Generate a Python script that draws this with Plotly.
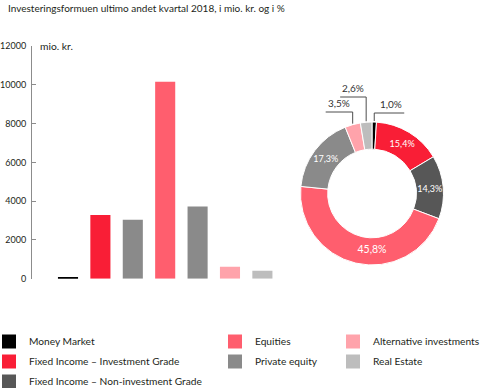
import math
import plotly.graph_objects as go

# ---------------- data ----------------
categories = ["Money Market", "Fixed Income – Investment Grade",
              "Fixed Income – Non-investment Grade", "Equities",
              "Private equity", "Alternative investments", "Real Estate"]
bar_values = [60, 3290, 3040, 10160, 3720, 615, 415]          # mio. kr.
share_pct = [1.0, 15.4, 14.3, 45.8, 17.3, 3.5, 2.6]            # %
y_ticks = [0, 2000, 4000, 6000, 8000, 10000, 12000]
legend_colors = ["#000000", "#F91E36", "#575757", "#FF5E6E", "#8A8A8A", "#FFA3AB", "#BDBDBD"]
bar_colors = ["#000000", "#F91E36", "#8A8A8A", "#FF5E6E", "#8A8A8A", "#FFA3AB", "#BDBDBD"]
legend_columns = [0, 0, 0, 1, 1, 2, 2]

# ---------------- layout helpers ----------------
W, H = 480, 388
FONT = "Lato"
TXT = "#231F20"

def px(x):
    return x / W

def py(y):
    return 1 - y / H

def fmt(v):
    return f"{v:.1f}".replace(".", ",") + "%"

fig = go.Figure()

# bars
fig.add_trace(go.Bar(
    x=categories, y=bar_values, marker=dict(color=bar_colors, line=dict(width=0)),
    showlegend=False, hoverinfo="x+y", xaxis="x", yaxis="y"))

# donut
cx, cy, R = 372, 193.5, 71.5
inside_text = [fmt(v) if v >= 10 else "" for v in share_pct]
fig.add_trace(go.Pie(
    labels=categories, values=share_pct, marker=dict(colors=legend_colors, line=dict(color="white", width=1)),
    sort=False, direction="clockwise", rotation=0, hole=0.62,
    text=inside_text, textinfo="text", textposition="inside",
    insidetextorientation="horizontal",
    textfont=dict(family=FONT, size=10.5, color="white"),
    domain=dict(x=[px(cx - R), px(cx + R)], y=[py(cy + R), py(cy - R)]),
    showlegend=False, hoverinfo="label+percent"))

# legend entries (dummy traces)
legend_names = ["legend", "legend2", "legend3"]
for name, col, lc in zip(categories, legend_colors, legend_columns):
    fig.add_trace(go.Scatter(
        x=[None], y=[None], mode="markers", name=name,
        marker=dict(symbol="square", size=14, color=col),
        legend=legend_names[lc], legendgroup=name, hoverinfo="skip"))

# outer labels with leader lines for small slices
cum = [0]
for v in share_pct:
    cum.append(cum[-1] + v)
total = cum[-1]
shapes, annotations = [], []
# (slice index, y of horizontal line, side, line length)
outer = [(0, 113, "right", 30), (6, 97, "left", 26), (5, 112, "left", 27)]
for idx, ly, side, length in outer:
    mid = (cum[idx] + cum[idx + 1]) / 2 / total * 2 * math.pi
    ex = cx + R * math.sin(mid)
    ey = cy - R * math.cos(mid) - 1
    hx = ex + length if side == "right" else ex - length
    shapes.append(dict(type="path", xref="paper", yref="paper",
                       path=f"M {px(ex)} {py(ey)} L {px(ex)} {py(ly)} L {px(hx)} {py(ly)}",
                       line=dict(color="#4d4d4d", width=1)))
    annotations.append(dict(x=px(hx), y=py(ly - 1), xref="paper", yref="paper",
                            text=fmt(share_pct[idx]), showarrow=False,
                            xanchor="right" if side == "right" else "left", yanchor="bottom",
                            font=dict(family=FONT, size=10, color="#333333")))

annotations.append(dict(x=px(6), y=py(8), xref="paper", yref="paper",
                        text="Investeringsformuen ultimo andet kvartal 2018, i mio. kr. og i %",
                        showarrow=False, xanchor="left", yanchor="middle",
                        font=dict(family=FONT, size=10, color=TXT)))
annotations.append(dict(x=px(38), y=12000, xref="paper", yref="y",
                        text="mio. kr.", showarrow=False, xanchor="left", yanchor="middle",
                        font=dict(family=FONT, size=10.3, color=TXT)))

y0, y12 = 278.7, 46
leg_common = dict(orientation="v", bgcolor="rgba(0,0,0,0)", borderwidth=0,
                  font=dict(family=FONT, size=10.2, color=TXT),
                  xanchor="left", yanchor="top", tracegroupgap=1, itemsizing="trace",
                  indentation=-11, y=py(327))

fig.update_layout(
    width=W, height=H, margin=dict(l=0, r=0, t=0, b=0, autoexpand=False),
    paper_bgcolor="white", plot_bgcolor="white",
    font=dict(family=FONT, size=10, color=TXT),
    bargap=0.38,
    xaxis=dict(domain=[px(32), px(285)], range=[-1.111, 6.698], type="category",
               visible=False, fixedrange=True, automargin=False),
    yaxis=dict(domain=[py(y0), py(y12)], range=[0, 12000], tickvals=y_ticks,
               tickformat="d", showline=True, linecolor="#8c8c8c", linewidth=1,
               ticks="inside", ticklen=4, tickcolor="#8c8c8c", showgrid=False,
               zeroline=False, tickfont=dict(family=FONT, size=9, color=TXT),
               ticklabelstandoff=3, automargin=False, fixedrange=True),
    legend=dict(x=0, **leg_common),
    legend2=dict(x=px(226), **leg_common),
    legend3=dict(x=px(344), entrywidth=100, **leg_common),
    shapes=shapes, annotations=annotations,
    showlegend=True,
)

fig.write_html("out.html", config={"displayModeBar": False},
               post_script="document.body.style.margin='0px';")
